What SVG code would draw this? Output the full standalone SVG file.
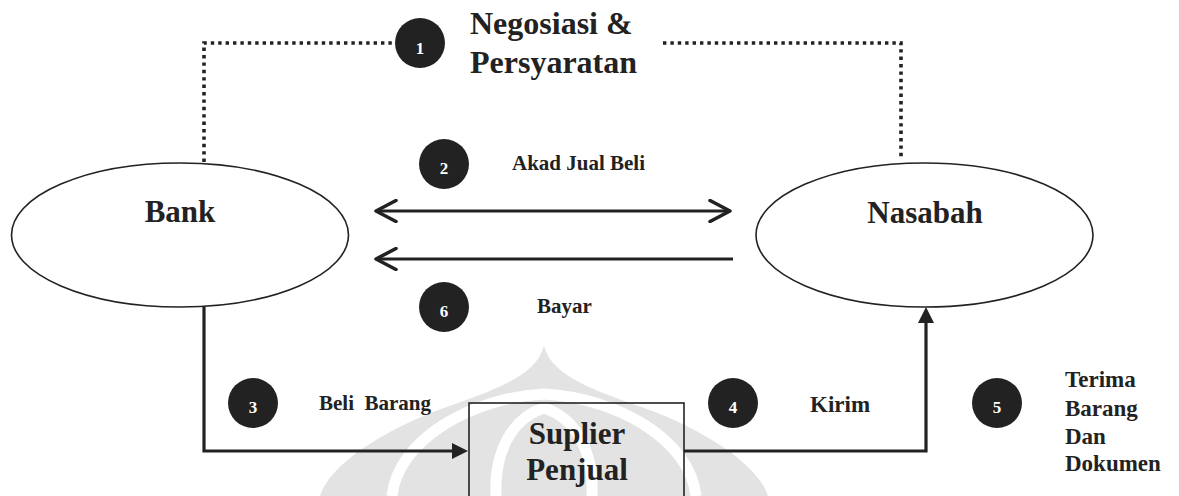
<svg xmlns="http://www.w3.org/2000/svg" width="1179" height="496" viewBox="0 0 1179 496">
<style>
.bg{fill:#ffffff}
.wm{fill:#e3e3e3}
.wml{fill:none;stroke:#ffffff;stroke-width:11}
.node{fill:none;stroke:#222;stroke-width:1.6}
.lbl{font-family:"Liberation Serif","Times New Roman",serif;font-weight:bold;fill:#222}
.big{font-size:31px;text-anchor:middle}
.mid{font-size:21px}
.mid2{font-size:23px}
.head{font-size:32px}
.num{font-family:"Liberation Serif","Times New Roman",serif;font-weight:bold;font-size:17px;fill:#fff;text-anchor:middle}
.badge{fill:#222}
.dot{fill:none;stroke:#222;stroke-width:3.6;stroke-dasharray:3.4 4}
.flow{fill:none;stroke:#222;stroke-width:3.2}
</style>
<defs>
<marker id="open" viewBox="0 0 24 24" refX="20" refY="12" markerWidth="24" markerHeight="24" markerUnits="userSpaceOnUse" orient="auto-start-reverse">
<path d="M2,1.5 L22,12 L2,22.5" fill="none" stroke="#222" stroke-width="3.5" stroke-linecap="round" stroke-linejoin="round"/>
</marker>
<marker id="solid" viewBox="0 0 16 16" refX="10" refY="8" markerWidth="16" markerHeight="16" markerUnits="userSpaceOnUse" orient="auto">
<path d="M0,0 L16,8 L0,16 Z" fill="#222"/>
</marker>
</defs>
<rect class="bg" x="0" y="0" width="1179" height="496"/>
<g id="watermark">
<path class="wm" d="M544,346 C552,378 600,392 655,412 C720,438 760,470 768,496 L320,496 C328,470 368,438 433,412 C488,392 536,378 544,346 Z"/>
<path class="wml" d="M392,496 C398,440 470,398 544,394 C618,398 690,440 696,496"/>
<path class="wml" d="M496,496 C494,452 512,418 544,408 C576,418 594,452 592,496"/>
</g>
<g id="connectors">
<path class="dot" d="M204,162 V43 H394"/>
<path class="dot" d="M663,43 H901 V158"/>
<line class="flow" x1="378" y1="211" x2="728" y2="211" marker-start="url(#open)" marker-end="url(#open)"/>
<line class="flow" x1="733" y1="259" x2="378" y2="259" marker-end="url(#open)"/>
<path class="flow" d="M204,307 V451 H462" marker-end="url(#solid)"/>
<path class="flow" d="M684,451 H926 V313" marker-end="url(#solid)"/>
</g>
<g id="bank">
<ellipse class="node" cx="180" cy="235" rx="168.5" ry="72"/>
<text class="lbl big" x="180" y="222">Bank</text>
</g>
<g id="nasabah">
<ellipse class="node" cx="924.5" cy="235" rx="168.5" ry="72"/>
<text class="lbl big" x="925" y="223">Nasabah</text>
</g>
<g id="suplier">
<rect class="node" x="469" y="403" width="215" height="110"/>
<text class="lbl big" x="577" y="444">Suplier</text>
<text class="lbl big" x="577" y="480">Penjual</text>
</g>
<g id="step1">
<circle class="badge" cx="420" cy="43" r="25"/>
<text class="num" x="420" y="54">1</text>
<text class="lbl head" x="470" y="34">Negosiasi &amp;</text>
<text class="lbl head" x="470" y="73">Persyaratan</text>
</g>
<g id="step2">
<circle class="badge" cx="444" cy="164" r="25"/>
<text class="num" x="444" y="174">2</text>
<text class="lbl mid" x="512" y="170">Akad Jual Beli</text>
</g>
<g id="step6">
<circle class="badge" cx="444" cy="307" r="25"/>
<text class="num" x="444" y="317">6</text>
<text class="lbl mid" x="537" y="313">Bayar</text>
</g>
<g id="step3">
<circle class="badge" cx="253" cy="403" r="25"/>
<text class="num" x="253" y="413">3</text>
<text class="lbl mid" x="319" y="410" xml:space="preserve" style="white-space:pre">Beli  Barang</text>
</g>
<g id="step4">
<circle class="badge" cx="733" cy="403" r="25"/>
<text class="num" x="733" y="413">4</text>
<text class="lbl mid2" x="810" y="412">Kirim</text>
</g>
<g id="step5">
<circle class="badge" cx="997" cy="403" r="25"/>
<text class="num" x="997" y="413">5</text>
<text class="lbl mid2" x="1065" y="387">Terima</text>
<text class="lbl mid2" x="1065" y="416">Barang</text>
<text class="lbl mid2" x="1065" y="444">Dan</text>
<text class="lbl mid2" x="1065" y="471">Dokumen</text>
</g>
</svg>
